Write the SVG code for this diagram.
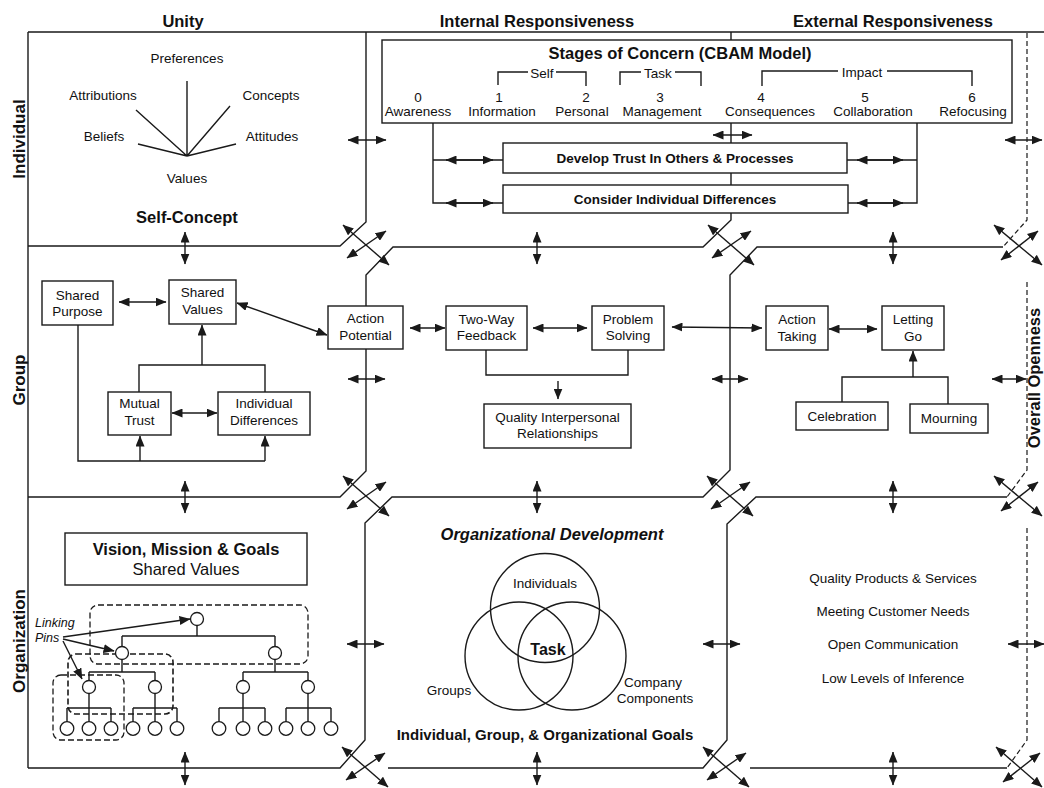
<svg xmlns="http://www.w3.org/2000/svg" width="1044" height="788" viewBox="0 0 1044 788">
<defs>
<marker id="ah" viewBox="0 0 11 9" refX="10.5" refY="4.5" markerWidth="11" markerHeight="9" markerUnits="userSpaceOnUse" orient="auto-start-reverse"><path d="M0,0 L11,4.5 L0,9 z" fill="#1a1a1a"/></marker>
<style>
.ln{stroke:#1a1a1a;stroke-width:1.4;fill:none}
.dl{stroke:#1a1a1a;stroke-width:1.2;fill:none;stroke-dasharray:5,3}
.dr{stroke:#1a1a1a;stroke-width:1.3;fill:none;stroke-dasharray:6,3;}
.bx{fill:#fff;stroke:#1a1a1a;stroke-width:1.4}
.ci{fill:#fff;stroke:#1a1a1a;stroke-width:1.3}
.da{stroke:#1a1a1a;stroke-width:1.4;fill:none;marker-start:url(#ah);marker-end:url(#ah)}
.sa{stroke:#1a1a1a;stroke-width:1.4;fill:none;marker-end:url(#ah)}
text{font-family:"Liberation Sans",Arial,sans-serif;font-size:13.5px;fill:#111;text-anchor:middle}
.b{font-weight:bold}
.hd{font-size:16.5px;font-weight:bold}
.rl{font-size:17px;font-weight:bold}
.bb{font-size:13.5px;font-weight:bold}
</style>
</defs>
<rect width="1044" height="788" fill="#fff"/>

<g id="grid">
<path class="ln" d="M28,32 H1044 M28,32 V768"/>
<path class="ln" d="M366,32 V222 L340,246 H28"/>
<path class="ln" d="M731,32 V220 L703,247 H393 L366,275 V471 L340,497 H28"/>
<path class="ln" d="M1003,247 H757 L730,275 V470 L703,497 H392 L365,523 V740 L340,768 H28"/>
<path class="ln" d="M1007,497 H756 L727,524 V740 L703,768 H388"/>
<path class="ln" d="M1007,768 H750"/>
<path class="dl" d="M1027,33 V220 L1003,247"/>
<path class="dl" d="M1027,282 V470 L1007,497"/>
<path class="dl" d="M1027,528 V740 L1007,768"/>
</g>

<g id="connectors">
<line class="da" x1="343" y1="225" x2="389" y2="265"/><line class="da" x1="386" y1="231" x2="347" y2="258"/>
<line class="da" x1="708" y1="225" x2="754" y2="265"/><line class="da" x1="751" y1="231" x2="712" y2="258"/>
<line class="da" x1="994" y1="225" x2="1042" y2="265"/><line class="da" x1="1038" y1="231" x2="1001" y2="260"/>
<line class="da" x1="343" y1="476" x2="389" y2="516"/><line class="da" x1="386" y1="482" x2="347" y2="509"/>
<line class="da" x1="707" y1="476" x2="753" y2="516"/><line class="da" x1="750" y1="482" x2="711" y2="509"/>
<line class="da" x1="994" y1="476" x2="1042" y2="516"/><line class="da" x1="1038" y1="482" x2="1001" y2="511"/>
<line class="da" x1="342" y1="747" x2="388" y2="787"/><line class="da" x1="385" y1="753" x2="346" y2="780"/>
<line class="da" x1="703" y1="747" x2="749" y2="787"/><line class="da" x1="746" y1="753" x2="707" y2="780"/>
<line class="da" x1="996" y1="747" x2="1042" y2="787"/><line class="da" x1="1040" y1="753" x2="1003" y2="782"/>
<line class="da" x1="185" y1="232" x2="185" y2="264"/>
<line class="da" x1="537" y1="232" x2="537" y2="264"/>
<line class="da" x1="893" y1="232" x2="893" y2="264"/>
<line class="da" x1="185" y1="481" x2="185" y2="513"/>
<line class="da" x1="537" y1="481" x2="537" y2="513"/>
<line class="da" x1="893" y1="481" x2="893" y2="513"/>
<line class="da" x1="185" y1="752" x2="185" y2="785"/>
<line class="da" x1="537" y1="752" x2="537" y2="785"/>
<line class="da" x1="893" y1="752" x2="893" y2="785"/>
<line class="da" x1="348" y1="140" x2="386" y2="140"/>
<line class="da" x1="713" y1="135" x2="752" y2="135"/>
<line class="da" x1="1005" y1="140" x2="1042" y2="140"/>
<line class="da" x1="348" y1="379" x2="385" y2="379"/>
<line class="da" x1="712" y1="379" x2="748" y2="379"/>
<line class="da" x1="992" y1="379" x2="1026" y2="379"/>
<line class="da" x1="347" y1="644" x2="384" y2="644"/>
<line class="da" x1="703" y1="644" x2="740" y2="644"/>
<line class="da" x1="1008" y1="644" x2="1044" y2="644"/>
<path class="ln" d="M187,156 L187,81 M187,156 L136,110 M187,156 L230,106 M187,156 L138,144 M187,156 L236,144"/>
<path class="ln" d="M433,123 V203 H503 M433,160 H503 M917,123 V203 H848 M917,160 H847"/>
<line class="da" x1="446" y1="160" x2="493" y2="160"/>
<line class="da" x1="446" y1="203" x2="493" y2="203"/>
<line class="da" x1="857" y1="160" x2="903" y2="160"/>
<line class="da" x1="857" y1="203" x2="903" y2="203"/>
<line class="da" x1="119" y1="302" x2="166" y2="302"/>
<line class="da" x1="172" y1="413" x2="217" y2="413"/>
<path class="ln" d="M139,392 V365 H265 V392"/>
<line class="sa" x1="202" y1="365" x2="202" y2="325"/>
<path class="ln" d="M78,325 V461 H265"/>
<line class="sa" x1="265" y1="461" x2="265" y2="436"/>
<line class="sa" x1="140" y1="461" x2="140" y2="436"/>
<line class="da" x1="237" y1="303" x2="327" y2="335"/>
<line class="da" x1="410" y1="328" x2="445" y2="328"/>
<line class="da" x1="533" y1="328" x2="587" y2="328"/>
<path class="ln" d="M486,350 V375 H628 V350"/>
<line class="sa" x1="558" y1="381" x2="558" y2="399"/>
<line class="da" x1="672" y1="327" x2="762" y2="328"/>
<line class="da" x1="829" y1="329" x2="877" y2="329"/>
<path class="ln" d="M842,402 V377 H948 V404"/>
<line class="sa" x1="913" y1="377" x2="913" y2="351"/>
<path class="ln" d="M197,626 V636 M122,636 H275 M122,636 V647 M275,636 V647 M122,659 V672 M275,659 V672 M89,672 H155 M243,672 H308 M89,672 V681 M155,672 V681 M243,672 V681 M308,672 V681 M89,694 V708 M155,694 V708 M243,694 V708 M308,694 V708 M67,708 H111 M133,708 H177 M219,708 H265 M286,708 H331 M67,708 V722 M89,708 V722 M111,708 V722 M133,708 V722 M155,708 V722 M177,708 V722 M219,708 V722 M243,708 V722 M265,708 V722 M286,708 V722 M308,708 V722 M331,708 V722"/>
<line class="sa" x1="63" y1="637" x2="190" y2="619"/>
<line class="sa" x1="63" y1="639" x2="114" y2="651"/>
<line class="sa" x1="63" y1="641" x2="82" y2="679"/>
</g>

<g id="headers">
<text class="hd" x="183" y="27">Unity</text>
<text class="hd" x="537" y="27">Internal Responsiveness</text>
<text class="hd" x="893" y="27">External Responsiveness</text>
<text class="rl" transform="translate(25,139) rotate(-90)">Individual</text>
<text class="rl" transform="translate(25,380) rotate(-90)">Group</text>
<text class="rl" transform="translate(25,641) rotate(-90)">Organization</text>
<text class="rl" transform="translate(1040,378) rotate(-90)" style="font-size:16.5px">Overall Openness</text>
</g>

<g id="self-concept">
<text x="187" y="63">Preferences</text>
<text x="103" y="100">Attributions</text>
<text x="271" y="100">Concepts</text>
<text x="104" y="141">Beliefs</text>
<text x="272" y="141">Attitudes</text>
<text x="187" y="183">Values</text>
<text class="hd" x="187" y="223">Self-Concept</text>
</g>

<g id="cbam">
<rect class="bx" x="382" y="40" width="630" height="83"/>
<text class="hd" x="680" y="59">Stages of Concern (CBAM Model)</text>
<path class="ln" d="M498,85 V72 H528 M556,72 H586 V86 M620,85 V72 H641 M675,72 H701 V86 M762,86 V71 H838 M887,71 H972 V86"/>
<text x="542" y="78">Self</text>
<text x="658" y="78">Task</text>
<text x="862" y="77">Impact</text>
<text x="418" y="102">0</text><text x="418" y="116">Awareness</text>
<text x="499" y="102">1</text><text x="502" y="116">Information</text>
<text x="586" y="102">2</text><text x="582" y="116">Personal</text>
<text x="660" y="102">3</text><text x="662" y="116">Management</text>
<text x="761" y="102">4</text><text x="770" y="116">Consequences</text>
<text x="865" y="102">5</text><text x="873" y="116">Collaboration</text>
<text x="972" y="102">6</text><text x="973" y="116">Refocusing</text>
</g>
<g id="trust">
<rect class="bx" x="503" y="143" width="344" height="30"/>
<text class="bb" x="675" y="163">Develop Trust In Others &amp; Processes</text>
</g>
<g id="differences">
<rect class="bx" x="503" y="185" width="345" height="28"/>
<text class="bb" x="675" y="204">Consider Individual Differences</text>
</g>

<g id="shared-purpose"><rect class="bx" x="42" y="281" width="71" height="44"/><text x="77.5" y="300">Shared</text><text x="77.5" y="316">Purpose</text></g>
<g id="shared-values"><rect class="bx" x="169" y="280" width="67" height="44"/><text x="202.5" y="297">Shared</text><text x="202.5" y="314">Values</text></g>
<g id="mutual-trust"><rect class="bx" x="108" y="392" width="63" height="43"/><text x="139.5" y="408">Mutual</text><text x="139.5" y="425">Trust</text></g>
<g id="individual-differences"><rect class="bx" x="218" y="392" width="92" height="43"/><text x="264" y="408">Individual</text><text x="264" y="425">Differences</text></g>
<g id="action-potential"><rect class="bx" x="328" y="306" width="75" height="43"/><text x="365.5" y="323">Action</text><text x="365.5" y="340">Potential</text></g>
<g id="two-way"><rect class="bx" x="446" y="306" width="81" height="44"/><text x="486.5" y="324">Two-Way</text><text x="486.5" y="340">Feedback</text></g>
<g id="problem-solving"><rect class="bx" x="592" y="306" width="72" height="44"/><text x="628" y="324">Problem</text><text x="628" y="340">Solving</text></g>
<g id="quality-relationships"><rect class="bx" x="484" y="404" width="147" height="44"/><text x="557.5" y="422">Quality Interpersonal</text><text x="557.5" y="438">Relationships</text></g>
<g id="action-taking"><rect class="bx" x="766" y="306" width="62" height="44"/><text x="797" y="324">Action</text><text x="797" y="341">Taking</text></g>
<g id="letting-go"><rect class="bx" x="882" y="306" width="62" height="44"/><text x="913" y="324">Letting</text><text x="913" y="341">Go</text></g>
<g id="celebration"><rect class="bx" x="796" y="402" width="92" height="28"/><text x="842" y="421">Celebration</text></g>
<g id="mourning"><rect class="bx" x="910" y="404" width="78" height="29"/><text x="949" y="423">Mourning</text></g>

<g id="vision">
<rect class="bx" x="65" y="533" width="242" height="52"/>
<text class="hd" x="186" y="555">Vision, Mission &amp; Goals</text>
<text x="186" y="575" style="font-size:16.5px">Shared Values</text>
</g>
<g id="org-chart">
<rect class="dr" x="90" y="605" width="218" height="59" rx="8"/>
<rect class="dr" x="68" y="654" width="105" height="60" rx="8" style="stroke-width:1.6"/>
<rect class="dr" x="53" y="675" width="71" height="65" rx="8"/>
<circle class="ci" cx="197" cy="619" r="6.5"/>
<circle class="ci" cx="122" cy="653" r="6.5"/><circle class="ci" cx="275" cy="653" r="6.5"/>
<circle class="ci" cx="89" cy="687" r="6.5"/><circle class="ci" cx="155" cy="687" r="6.5"/>
<circle class="ci" cx="243" cy="687" r="6.5"/><circle class="ci" cx="308" cy="687" r="6.5"/>
<circle class="ci" cx="67" cy="728.5" r="6.8"/><circle class="ci" cx="89" cy="728.5" r="6.8"/><circle class="ci" cx="111" cy="728.5" r="6.8"/>
<circle class="ci" cx="133" cy="728.5" r="6.8"/><circle class="ci" cx="155" cy="728.5" r="6.8"/><circle class="ci" cx="177" cy="728.5" r="6.8"/>
<circle class="ci" cx="219" cy="728.5" r="6.8"/><circle class="ci" cx="243" cy="728.5" r="6.8"/><circle class="ci" cx="265" cy="728.5" r="6.8"/>
<circle class="ci" cx="286" cy="728.5" r="6.8"/><circle class="ci" cx="308" cy="728.5" r="6.8"/><circle class="ci" cx="331" cy="728.5" r="6.8"/>
<text x="35" y="627" style="text-anchor:start;font-style:italic;font-size:12.5px">Linking</text>
<text x="35" y="642" style="text-anchor:start;font-style:italic;font-size:12.5px">Pins</text>
</g>

<g id="org-development">
<text class="hd" x="552" y="540" style="font-style:italic">Organizational Development</text>
<circle class="ln" cx="545" cy="608" r="54.5"/>
<circle class="ln" cx="519" cy="656" r="54"/>
<circle class="ln" cx="572" cy="656" r="54"/>
<text x="545" y="588">Individuals</text>
<text class="b" x="548" y="655" style="font-size:16px">Task</text>
<text x="449" y="695">Groups</text>
<text x="653" y="687">Company</text>
<text x="655" y="703">Components</text>
<text class="b" x="545" y="740" style="font-size:15px">Individual, Group, &amp; Organizational Goals</text>
</g>

<g id="outcomes">
<text x="893" y="583">Quality Products &amp; Services</text>
<text x="893" y="616">Meeting Customer Needs</text>
<text x="893" y="649">Open Communication</text>
<text x="893" y="683">Low Levels of Inference</text>
</g>
</svg>
